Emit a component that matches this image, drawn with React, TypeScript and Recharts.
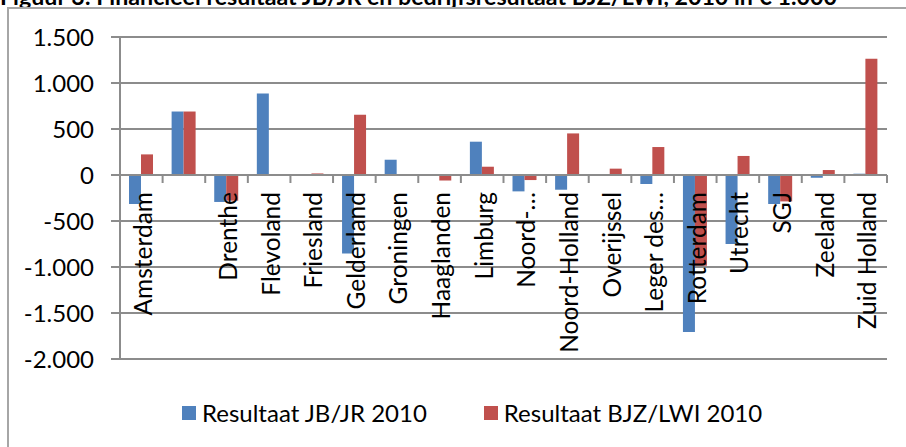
import React from 'react';
import { BarChart, Bar, XAxis, YAxis, CartesianGrid, ReferenceLine } from 'recharts';

const title = 'Figuur 3: Financieel resultaat JB/JR en bedrijfsresultaat BJZ/LWI, 2010 in € 1.000';

const categories = [
  'Amsterdam', '', 'Drenthe', 'Flevoland', 'Friesland', 'Gelderland', 'Groningen', 'Haaglanden',
  'Limburg', 'Noord-…', 'Noord-Holland', 'Overijssel', 'Leger des…', 'Rotterdam', 'Utrecht', 'SGJ',
  'Zeeland', 'Zuid Holland',
];
const seriesJB = [-315, 690, -293, 887, 0, -852, 166, 0, 362, -178, -160, 0, -98, -1707, -750, -315, -30, 14];
const seriesBJZ = [224, 690, -279, 10, 17, 655, 0, -60, 90, -55, 452, 69, 304, -986, 207, -287, 54, 1264];
const seriesNames = ['Resultaat JB/JR 2010', 'Resultaat BJZ/LWI 2010'];
const yTicks = [-2000, -1500, -1000, -500, 0, 500, 1000, 1500];

const data = categories.map((c, i) => ({ cat: c, jb: seriesJB[i], bjz: seriesBJZ[i] }));

const W = 906;
const H = 447;
const TOP = 37;
const BOTTOM_M = 88;
const RIGHT = 19;
const YMIN = -2000;
const YMAX = 1500;
const ZERO_Y = TOP + ((H - TOP - BOTTOM_M) * YMAX) / (YMAX - YMIN);

const BLUE = '#4F81BD';
const RED = '#C0504D';
const COLORS = [BLUE, RED];
const GRID = '#8c8c8c';
const FONT = 'Lato, "Open Sans", sans-serif';

const fmt = (v: number) => {
  const s = Math.abs(v).toString().replace(/\B(?=(\d{3})+(?!\d))/g, '.');
  return (v < 0 ? '-' : '') + s;
};

const CatTick = (props: any) => {
  const { x, payload } = props;
  const half = payload && payload.offset ? payload.offset : 21.3;
  const ly = ZERO_Y + 17;
  return (
    <g>
      <line x1={x + half} x2={x + half} y1={ZERO_Y} y2={ZERO_Y + 8} stroke={GRID} strokeWidth={2} />
      <text
        x={x + 1}
        y={ly}
        transform={`rotate(-90 ${x + 1} ${ly})`}
        textAnchor="end"
        dominantBaseline="central"
        fontFamily={FONT}
        fontSize={24.5}
        fill="#000"
      >
        {payload.value}
      </text>
    </g>
  );
};

export default function App() {
  return (
    <div style={{ position: 'absolute', left: 0, top: 0, width: W, height: H, overflow: 'hidden', background: '#fff' }}>
      <svg style={{ position: 'absolute', left: 0, top: 0 }} width={W} height={20}>
        <text x={0} y={5} fontFamily={FONT} fontWeight="bold" fontSize={23.2} fill="#000">
          {title}
        </text>
      </svg>
      <div
        style={{
          position: 'absolute',
          left: 7,
          top: 7,
          width: W + 20,
          height: H + 20,
          border: '2px solid #a6a6a6',
        }}
      />
      <div style={{ position: 'absolute', left: 0, top: 0 }}>
        <BarChart
          width={W}
          height={H}
          data={data}
          margin={{ top: TOP, right: RIGHT, bottom: 0, left: 0 }}
          barGap={0}
          barSize={12}
        >
          <CartesianGrid vertical={false} stroke={GRID} strokeWidth={2} />
          <YAxis
            width={120}
            domain={[YMIN, YMAX]}
            ticks={yTicks}
            interval={0}
            tickFormatter={fmt}
            axisLine={{ stroke: GRID, strokeWidth: 2 }}
            tickLine={{ stroke: GRID, strokeWidth: 2 }}
            tickSize={9}
            tickMargin={17}
            tick={{ fill: '#000', fontFamily: FONT, fontSize: 24 }}
          />
          <Bar dataKey="jb" name={seriesNames[0]} fill={BLUE} isAnimationActive={false} />
          <Bar dataKey="bjz" name={seriesNames[1]} fill={RED} isAnimationActive={false} />
          <ReferenceLine y={0} stroke={GRID} strokeWidth={2} />
          <XAxis
            dataKey="cat"
            height={BOTTOM_M}
            axisLine={false}
            tickLine={false}
            interval={0}
            tick={<CatTick />}
          />
        </BarChart>
      </div>
      <div
        style={{
          position: 'absolute',
          left: 182,
          top: 398,
          display: 'flex',
          alignItems: 'center',
          fontFamily: FONT,
          fontSize: 24,
          color: '#000',
          whiteSpace: 'nowrap',
        }}
      >
        {seriesNames.map((n, i) => (
          <div key={i} style={{ display: 'flex', alignItems: 'center', marginRight: 57 }}>
            <div style={{ width: 14, height: 14, background: COLORS[i], marginRight: 6 }} />
            <span>{n}</span>
          </div>
        ))}
      </div>
    </div>
  );
}
